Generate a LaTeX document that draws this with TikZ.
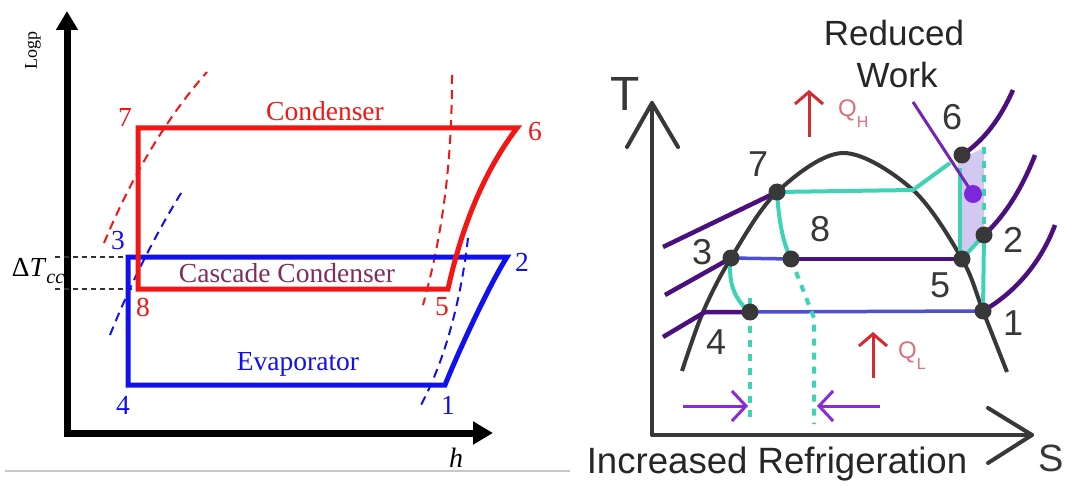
\documentclass[tikz,border=0pt]{standalone}
\usepackage{fontspec}
\setmainfont{Liberation Serif}
\newfontfamily\sansf{Liberation Sans}
\usetikzlibrary{arrows.meta}
\definecolor{cred}{HTML}{F41515}
\definecolor{cblue}{HTML}{1010F0}
\definecolor{cmaroon}{HTML}{7E3058}
\definecolor{dgrey}{HTML}{383838}
\definecolor{teal2}{HTML}{3ED3B5}
\definecolor{dpurp}{HTML}{4C0F7E}
\definecolor{lblue}{HTML}{4E4ED8}
\definecolor{violet2}{HTML}{8A2BD8}
\definecolor{lav}{HTML}{D2C8F2}
\definecolor{qred}{HTML}{D42A30}
\definecolor{qtxt}{HTML}{D9707E}
\begin{document}
\begin{tikzpicture}[x=1pt,y=-1pt,
  lbl/.style={font=\fontsize{27.5}{30}\selectfont, inner sep=0pt},
  rlbl/.style={font=\sansf\fontsize{36}{40}\selectfont, text=dgrey, inner sep=0pt},
  axisL/.style={line width=7pt, black},
  redcyc/.style={line width=5pt, cred, line join=miter},
  bluecyc/.style={line width=5pt, cblue, line join=miter},
  rdash/.style={line width=2pt, cred, dash pattern=on 9pt off 6pt},
  bdash/.style={line width=2pt, cblue, dash pattern=on 9pt off 6pt},
  kdash/.style={line width=1.2pt, black!80, dash pattern=on 5pt off 4pt},
  raxis/.style={line width=4pt, dgrey, line cap=round, line join=round},
  dome/.style={line width=4pt, dgrey},
  iso/.style={line width=4.5pt, dpurp},
  isob/.style={line width=3.5pt, lblue},
  tl/.style={line width=4pt, teal2},
  tdash/.style={line width=4pt, teal2, dash pattern=on 7pt off 7pt},
  dot/.style={circle, fill=dgrey, minimum size=17pt, inner sep=0pt},
  parr/.style={line width=3pt, violet2, -{Straight Barb[length=14pt, width=30pt, line width=3pt]}},
  qarr/.style={line width=3pt, qred, -{Straight Barb[length=12pt, width=28pt, line width=3pt]}},
  qlbl/.style={font=\sansf\fontsize{24}{26}\selectfont, text=qtxt, inner sep=0pt}
]
\useasboundingbox (0,0) rectangle (1067,486);
\fill[white] (0,0) rectangle (1067,486);

% ================= LEFT PANEL =================
\coordinate (sepL) at (5,471); \coordinate (sepR) at (570,471);
\draw[line width=1.5pt, black!22] (sepL) -- (sepR);

\coordinate (yb) at (67,436.5); \coordinate (yt) at (67,11);
\coordinate (xl) at (63.5,433); \coordinate (xr) at (493,433);
\draw[axisL, -{Triangle[length=19pt,width=21pt]}] (yb) -- (yt);
\draw[axisL, -{Triangle[length=20pt,width=22pt]}] (xl) -- (xr);
\node[rotate=90, font=\fontsize{18}{20}\selectfont, inner sep=0pt] (logp) at (33,51) {Logp};
\node[font=\fontsize{28}{30}\selectfont\itshape, inner sep=0pt] (hlbl) at (456,458) {h};

\coordinate (L7) at (138,128); \coordinate (L6) at (517,128);
\coordinate (L8) at (138,289); \coordinate (L5) at (448,289);
\coordinate (L3) at (128,257); \coordinate (L2) at (507,257);
\coordinate (L4) at (128,385); \coordinate (L1) at (445,385);

% dashed delta T lines
\coordinate (dt1) at (55,257); \coordinate (dt2) at (55,289);
\draw[kdash] (dt1) -- (L3);
\draw[kdash] (dt2) -- (L8);

% saturation dashed curves
\coordinate (rd1a) at (104,243); \coordinate (rd1b) at (207,72);
\draw[rdash] (rd1a) .. controls (126,190) and (160,125) .. (rd1b);
\coordinate (rd2a) at (452,75); \coordinate (rd2b) at (423,305);
\draw[rdash] (rd2a) .. controls (452,170) and (441,240) .. (rd2b);
\coordinate (bd1a) at (110,335); \coordinate (bd1b) at (183,190);
\draw[bdash] (bd1a) .. controls (130,285) and (155,235) .. (bd1b);
\coordinate (bd2a) at (468,238); \coordinate (bd2b) at (421,405);
\draw[bdash] (bd2a) .. controls (461,300) and (445,360) .. (bd2b);

% cycles
\draw[bluecyc] (L3) -- (L2) .. controls (488,287) and (457,355) .. (L1) -- (L4) -- cycle;
\draw[redcyc] (L7) -- (L6) .. controls (485,170) and (462,225) .. (L5) -- (L8) -- cycle;

% labels
\node[lbl, text=cred] (n7) at (125,117) {7};
\node[lbl, text=cred] (n6) at (535,132) {6};
\node[lbl, text=cred] (n8) at (143,307) {8};
\node[lbl, text=cred] (n5) at (442,307) {5};
\node[lbl, text=cblue] (n3) at (118,241) {3};
\node[lbl, text=cblue] (n2) at (522,262) {2};
\node[lbl, text=cblue] (n4) at (123,405) {4};
\node[lbl, text=cblue] (n1) at (448,405) {1};
\node[lbl, text=cred] (cond) at (325,111) {Condenser};
\node[lbl, text=cmaroon] (casc) at (287,273) {Cascade Condenser};
\node[lbl, text=cblue] (evap) at (298,364) {Evaporator};
\node[lbl] (dtcc) at (38,271) {Δ\textit{T}\raisebox{-0.25em}{\fontsize{20}{22}\selectfont\textit{cc}}};

% ================= RIGHT PANEL =================
\coordinate (Tb) at (652,435); \coordinate (Tt) at (652,103);
\coordinate (Sl) at (652,435); \coordinate (Sr) at (1032,435);
\coordinate (Ta1) at (627,147); \coordinate (Ta2) at (678,147);
\coordinate (Sa1) at (988,408); \coordinate (Sa2) at (988,463);
\draw[raxis] (Tt) -- (Tb) -- (Sr);
\draw[raxis] (Ta1) -- (Tt) -- (Ta2);
\draw[raxis] (Sa1) -- (Sr) -- (Sa2);
\node[font=\sansf\fontsize{48}{50}\selectfont, text=dgrey, inner sep=0pt] (Tlbl) at (625,94) {T};
\node[font=\sansf\fontsize{38}{40}\selectfont, text=dgrey, inner sep=0pt] (Slbl) at (1051,458) {S};
\node[font=\sansf\fontsize{36.6}{40}\selectfont, text=black!85, inner sep=0pt] (incr) at (777,464) {Increased Refrigeration};
\node[font=\sansf\fontsize{35}{40}\selectfont, text=black!85, inner sep=0pt] (red1) at (894,33) {Reduced};
\node[font=\sansf\fontsize{35}{40}\selectfont, text=black!85, inner sep=0pt] (red2) at (897,75) {Work};

% points
\coordinate (P7) at (777,192);
\coordinate (P3) at (731,258);
\coordinate (P8) at (791,259);
\coordinate (P4) at (750,312);
\coordinate (P5) at (962,259);
\coordinate (P1) at (983,311);
\coordinate (P2) at (984,235);
\coordinate (P6) at (962,155);
\coordinate (PV) at (973,194);
\coordinate (Pc) at (913,190);

% shaded work area
\fill[lav] (958,160) -- (984,148) -- (984,236) -- (962,259) -- (958,259) -- cycle;

% dome
\draw[dome] plot[smooth, tension=0.55] coordinates {(682,371) (703,312) (731,258) (777,192) (843,153) (913,190) (962,259) (983,311) (1007,372)};

% isobar lines left
\coordinate (i1) at (663,247);
\coordinate (i2) at (665,295);
\coordinate (i3) at (663,337);
\coordinate (i3b) at (705,312);
\draw[iso] (i1) -- (P7);
\draw[iso] (i2) -- (P3);
\draw[iso] (i3) -- (i3b) -- (P4);
\draw[isob] (P3) -- (P8);
\draw[iso] (P8) -- (P5);
\draw[isob] (P4) -- (P1);

% isobar curves right
\coordinate (r1) at (1013,90);
\coordinate (r2) at (1035,155);
\coordinate (r3) at (1055,225);
\draw[iso] (P6) .. controls (985,140) and (1001,117) .. (r1);
\draw[iso] (P2) .. controls (1006,215) and (1023,186) .. (r2);
\draw[iso] (P1) .. controls (1016,292) and (1041,262) .. (r3);

% teal cycle lines
\coordinate (t6) at (950,163);
\coordinate (tv1) at (960,168);
\coordinate (tv2) at (960,258);
\draw[tl] (P7) -- (Pc) -- (t6);
\draw[tl] (tv1) -- (tv2);
\draw[tl] (P5) -- (P2) -- (P1);
\draw[tl] (P7) .. controls (779,225) and (784,245) .. (P8);
\draw[tl] (P3) .. controls (727,285) and (737,302) .. (P4);
\coordinate (td1) at (984,147);
\coordinate (td2) at (984,228);
\draw[tdash] (td1) -- (td2);
\coordinate (d8b) at (814,318);
\coordinate (d8c) at (814,424);
\draw[tdash] (P8) -- (d8b) -- (d8c);
\coordinate (d4c) at (750,424);
\draw[tdash] ([yshift=14pt]P4) -- (d4c);

% violet line to purple dot
\coordinate (vl) at (913,102);
\draw[line width=3pt, violet2!85!black] (vl) -- (PV);

% dots
\foreach \p in {P7,P3,P8,P4,P5,P1,P2,P6} \node[dot] (d\p) at (\p) {};
\node[circle, fill=violet2!90!blue, minimum size=18pt, inner sep=0pt] (dPV) at (PV) {};

% purple arrows
\coordinate (pa1) at (683,406); \coordinate (pa2) at (748,406);
\coordinate (pb1) at (880,406); \coordinate (pb2) at (817,406);
\draw[parr] (pa1) -- (pa2);
\draw[parr] (pb1) -- (pb2);

% Q arrows
\coordinate (qh1) at (809,137); \coordinate (qh2) at (809,90);
\coordinate (ql1) at (873,378); \coordinate (ql2) at (873,332);
\draw[qarr] (qh1) -- (qh2);
\draw[qarr] (ql1) -- (ql2);
\node[qlbl, anchor=west] (QH) at (838,114) {Q\raisebox{-0.45em}{\fontsize{16}{18}\selectfont H}};
\node[qlbl, anchor=west] (QL) at (898,356) {Q\raisebox{-0.45em}{\fontsize{16}{18}\selectfont L}};

% right labels
\node[rlbl] (m7) at (758,164) {7};
\node[rlbl] (m8) at (820,229) {8};
\node[rlbl] (m3) at (702,252) {3};
\node[rlbl] (m4) at (716,342) {4};
\node[rlbl] (m5) at (940,285) {5};
\node[rlbl] (m1) at (1013,323) {1};
\node[rlbl] (m2) at (1013,240) {2};
\node[rlbl] (m6) at (952,117) {6};
\end{tikzpicture}
\end{document}
